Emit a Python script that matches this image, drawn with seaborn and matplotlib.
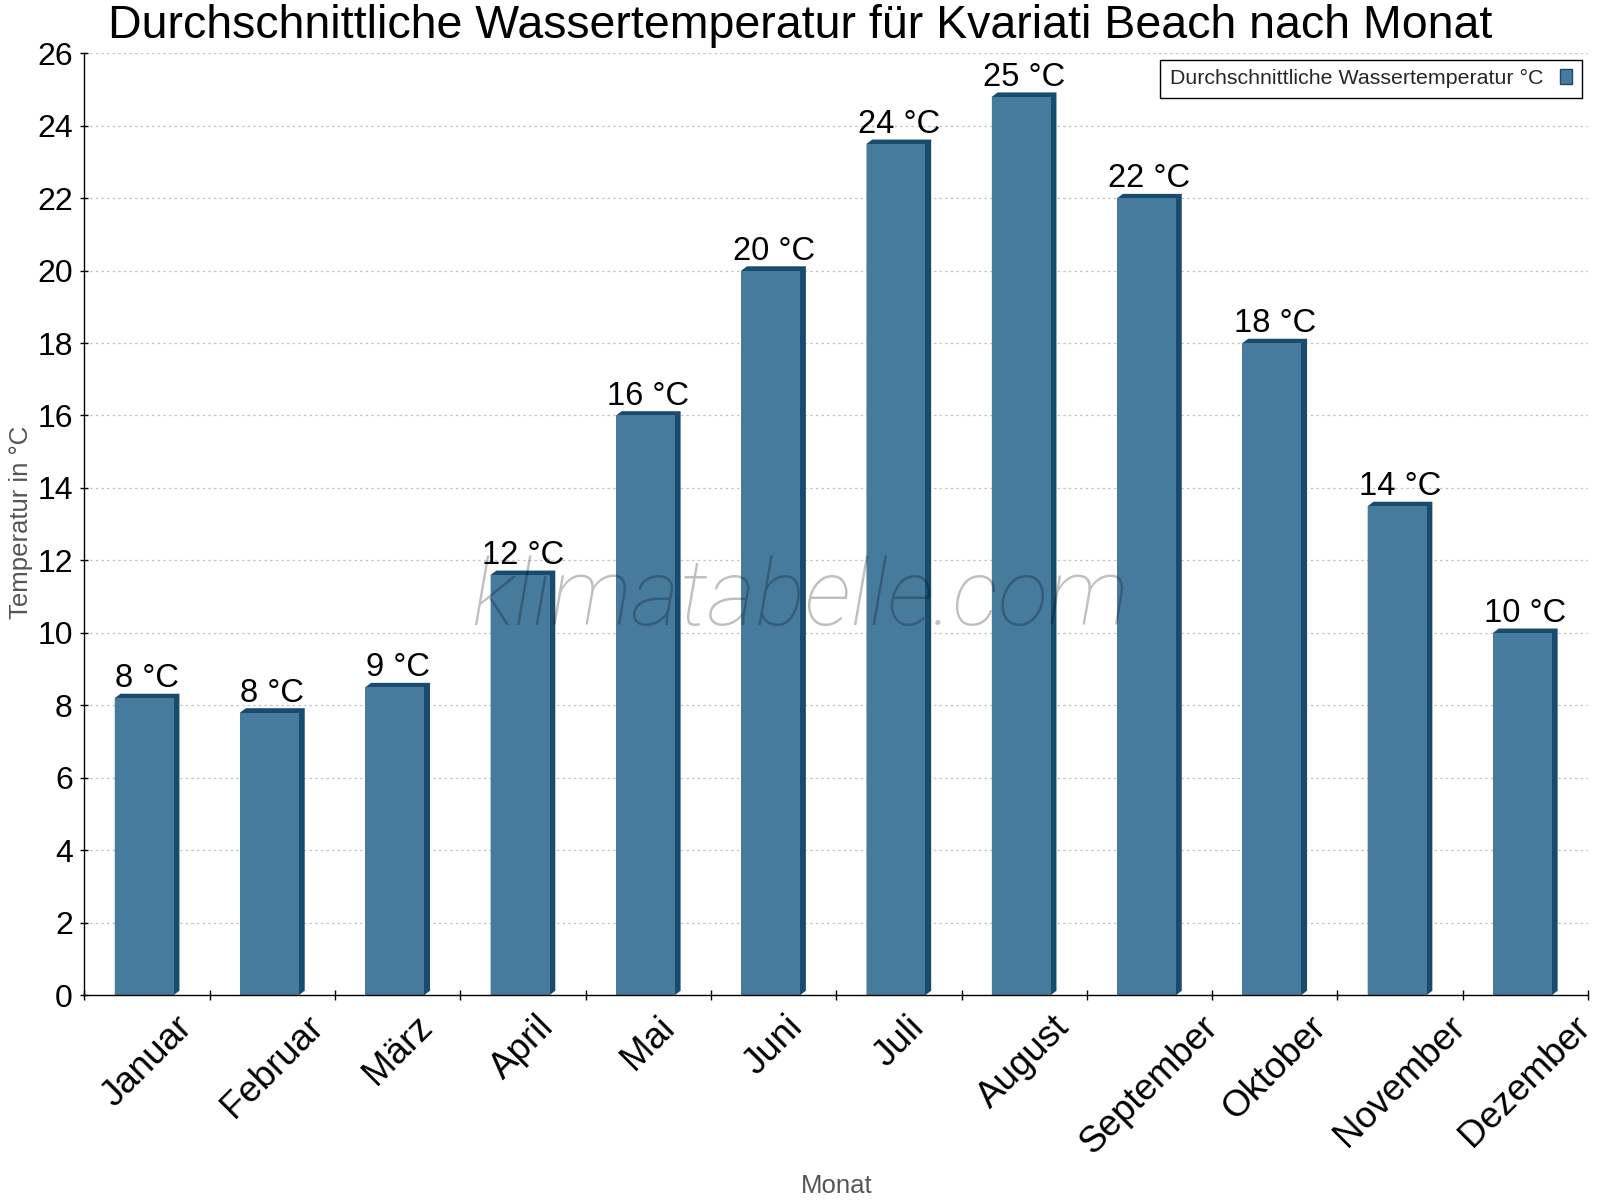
import math
import numpy as np
import pandas as pd
import matplotlib
matplotlib.use("Agg")
import matplotlib.pyplot as plt
from matplotlib.patches import Patch, Polygon
import seaborn as sns

# data
months = ["Januar", "Februar", "März", "April", "Mai", "Juni",
          "Juli", "August", "September", "Oktober", "November", "Dezember"]
water_temp = [8.2, 7.8, 8.5, 11.6, 16.0, 20.0, 23.5, 24.8, 22.0, 18.0, 13.5, 10.0]
y_ticks = list(range(0, 27, 2))

front_col = "#467b9e"
dark_col = "#184b6d"

sns.set_theme(style="white")
plt.rcParams["font.family"] = ["Liberation Sans", "DejaVu Sans"]

df = pd.DataFrame({"Monat": months, "Temp": water_temp})

fig = plt.figure(figsize=(16, 12), dpi=100)
ax = fig.add_axes([0.0528, 0.1708, 0.9397, 0.7848])

sns.barplot(data=df, x="Monat", y="Temp", color=front_col, saturation=1,
            width=0.47, ax=ax, zorder=2, edgecolor="none", linewidth=0)

ax.set_xlim(-0.5, len(months) - 0.5)
ax.set_ylim(0, 26)
ax.set_yticks(y_ticks)

# 3D look: dark extrusion behind each bar (depth in pixels)
dpx, dpy = 5.7, 4.3
to_disp = ax.transData
to_data = ax.transData.inverted()
for p in ax.patches:
    shift = to_data.transform((dpx / 2, 0))[0] - to_data.transform((0, 0))[0]
    p.set_x(p.get_x() - shift)
    x0, x1 = p.get_x(), p.get_x() + p.get_width()
    h = p.get_height()
    (X0, Y0), (X1, Yh) = to_disp.transform([(x0, 0), (x1, h)])
    pts = [(X0, Y0), (X0, Yh), (X0 + dpx, Yh + dpy), (X1 + dpx, Yh + dpy),
           (X1 + dpx, Y0 + dpy), (X1, Y0)]
    poly = Polygon(to_data.transform(pts), closed=True, facecolor=dark_col,
                   edgecolor="none", zorder=1.9)
    ax.add_patch(poly)

# value labels
for i, v in enumerate(water_temp):
    ax.annotate(f"{math.floor(v + 0.5)} °C", (i, v), xytext=(0, 7.9),
                textcoords="offset points", ha="center", va="baseline",
                fontsize=23.5, color="black", zorder=5)

# grid and spines
ax.set_axisbelow(True)
ax.yaxis.grid(True, color="#c4c4c4", linewidth=0.9, linestyle=(0, (2, 2.5)))
ax.xaxis.grid(False)
for s in ["top", "right"]:
    ax.spines[s].set_visible(False)
for s in ["left", "bottom"]:
    ax.spines[s].set_color("black")
    ax.spines[s].set_linewidth(1)

ax.set_xticks(np.arange(-0.5, len(months), 1.0), minor=True)
ax.tick_params(axis="x", which="major", length=0, pad=10.5, labelsize=26.5,
               labelcolor="black", rotation=45)
ax.tick_params(axis="x", which="minor", length=6.5, width=1, direction="inout",
               color="black", bottom=True)
ax.tick_params(axis="y", which="major", length=5.8, width=1, direction="inout",
               color="black", left=True, pad=5.5, labelsize=23, labelcolor="black")
for lab in ax.get_xticklabels():
    lab.set_ha("center")

ax.set_xlabel("")
ax.set_ylabel("")
fig.text(0.5227, 1 - 1186 / 1200, "Monat", fontsize=18.5, color="#555555",
         ha="center", va="center")
fig.text(0.013, 0.5646, "Temperatur in °C", fontsize=18.5, color="#555555",
         rotation=90, ha="center", va="center")

fig.text(0.5, 1 - 38.3 / 1200,
         "Durchschnittliche Wassertemperatur für Kvariati Beach nach Monat",
         fontsize=33.5, color="black", ha="center", va="baseline")

# legend with the marker on the right
handle = Patch(facecolor=front_col, edgecolor=dark_col, linewidth=1)
leg = ax.legend([handle], ["Durchschnittliche Wassertemperatur °C"],
                loc="upper right", markerfirst=False, fontsize=15.4,
                fancybox=False, framealpha=1, edgecolor="black",
                handlelength=0.55, handleheight=0.7, handletextpad=0.8,
                borderpad=0.45, borderaxespad=0.3)
leg.get_frame().set_linewidth(1)

# watermark
fig.text(0.5, 1 - 600 / 1200, "klimatabelle.com", fontsize=67, style="italic",
         family=["Roboto", "Liberation Sans"], fontweight="light",
         color="black", alpha=0.25, ha="center", va="center", zorder=10)

fig.savefig("out.png", dpi=100)
